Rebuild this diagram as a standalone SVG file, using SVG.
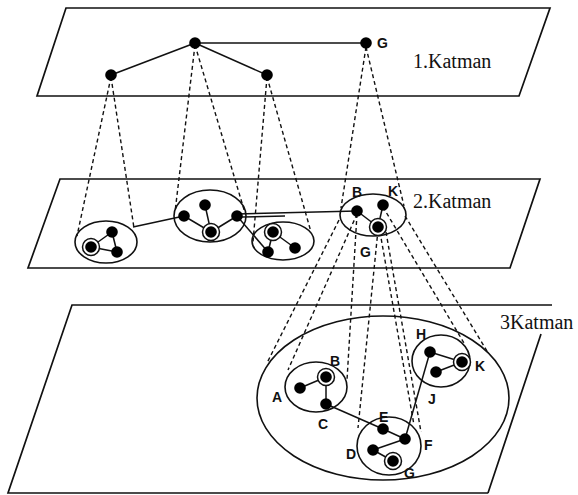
<svg xmlns="http://www.w3.org/2000/svg" width="578" height="495" viewBox="0 0 578 495">
  <style>
    .plane { fill: none; stroke: #111; stroke-width: 1.7; }
    .ring { fill: none; stroke: #111; stroke-width: 1.6; }
    .edge { stroke: #111; stroke-width: 1.5; fill: none; }
    .proj { stroke: #111; stroke-width: 1.4; stroke-dasharray: 4 3; fill: none; }
    .node { fill: #000; }
    .halo { fill: #fff; stroke: #111; stroke-width: 1.5; }
    .lbl { font-family: "Liberation Sans", Arial, sans-serif; font-weight: bold; font-size: 14px; fill: #111; }
    .title { font-family: "Liberation Serif", "Times New Roman", serif; font-size: 20px; fill: #111; }
  </style>
  <defs>
    <g id="dn">
      <circle r="8.5" class="halo"/>
      <circle r="5.8" class="node"/>
    </g>
  </defs>
  <rect width="578" height="495" fill="#fff"/>

  <!-- layer planes -->
  <g id="plane1">
    <polygon class="plane" points="66,8 550,8 519,96 37,96"/>
    <text class="title" x="413" y="68">1.Katman</text>
  </g>
  <g id="plane2">
    <polygon class="plane" points="60,179 540,179 510,268 28,268"/>
    <text class="title" x="413" y="208">2.Katman</text>
  </g>
  <g id="plane3">
    <path class="plane" d="M488,493 L8,493 L72,305 L552,305 M541,334 L488,493"/>
    <text class="title" x="500" y="329">3Katman</text>
  </g>

  <!-- connectors -->
  <g id="connectors">
    <!-- layer 1 edges -->
    <line class="edge" x1="195" y1="43" x2="111" y2="75"/>
    <line class="edge" x1="195" y1="43" x2="267" y2="75"/>
    <line class="edge" x1="195" y1="43" x2="366" y2="43"/>

    <!-- layer 1 to layer 2 projections -->
    <line class="proj" x1="111" y1="77" x2="77" y2="236"/>
    <line class="proj" x1="111" y1="77" x2="134" y2="228"/>
    <line class="proj" x1="195" y1="45" x2="175" y2="212"/>
    <line class="proj" x1="195" y1="45" x2="245" y2="213"/>
    <line class="proj" x1="267" y1="77" x2="253" y2="242"/>
    <line class="proj" x1="267" y1="77" x2="311" y2="232"/>
    <line class="proj" x1="366" y1="47" x2="341" y2="208"/>
    <line class="proj" x1="366" y1="47" x2="404" y2="206"/>

    <!-- layer 2 edges -->
    <line class="edge" x1="91" y1="247" x2="112" y2="232"/>
    <line class="edge" x1="91" y1="247" x2="117" y2="252"/>
    <line class="edge" x1="112" y1="232" x2="117" y2="252"/>
    <line class="edge" x1="133" y1="227" x2="184" y2="216"/>
    <line class="edge" x1="184" y1="216" x2="211" y2="232"/>
    <line class="edge" x1="205" y1="205" x2="211" y2="232"/>
    <line class="edge" x1="237" y1="216" x2="211" y2="232"/>
    <line class="edge" x1="237" y1="214" x2="357" y2="211"/>
    <line class="edge" x1="242" y1="217" x2="285" y2="216"/>
    <line class="edge" x1="237" y1="216" x2="268" y2="252"/>
    <line class="edge" x1="273" y1="232" x2="295" y2="248"/>
    <line class="edge" x1="273" y1="232" x2="268" y2="252"/>
    <line class="edge" x1="357" y1="211" x2="378" y2="227"/>
    <line class="edge" x1="383" y1="205" x2="378" y2="227"/>

    <!-- layer 2 to layer 3 projections -->
    <line class="proj" x1="339" y1="220" x2="267" y2="363"/>
    <line class="proj" x1="357" y1="214" x2="288" y2="370"/>
    <line class="proj" x1="357" y1="214" x2="347" y2="380"/>
    <line class="proj" x1="378" y1="230" x2="358" y2="428"/>
    <line class="proj" x1="380" y1="232" x2="414" y2="425"/>
    <line class="proj" x1="386" y1="232" x2="421" y2="432"/>
    <line class="proj" x1="383" y1="207" x2="464" y2="343"/>
    <line class="proj" x1="405" y1="216" x2="487" y2="351"/>

    <!-- layer 3 edges -->
    <line class="edge" x1="300" y1="388" x2="326" y2="377"/>
    <line class="edge" x1="326" y1="377" x2="326" y2="404"/>
    <line class="edge" x1="326" y1="404" x2="383" y2="429"/>
    <line class="edge" x1="383" y1="429" x2="405" y2="439"/>
    <line class="edge" x1="373" y1="450" x2="405" y2="439"/>
    <line class="edge" x1="373" y1="450" x2="393" y2="461"/>
    <line class="edge" x1="405" y1="439" x2="430" y2="352"/>
    <line class="edge" x1="430" y1="352" x2="462" y2="362"/>
    <line class="edge" x1="436" y1="372" x2="462" y2="362"/>
  </g>

  <!-- layer 1 nodes -->
  <g id="l1-top"><circle class="node" cx="195" cy="43" r="5.8"/></g>
  <g id="l1-left"><circle class="node" cx="111" cy="75" r="5.8"/></g>
  <g id="l1-right"><circle class="node" cx="267" cy="75" r="5.8"/></g>
  <g id="l1-G">
    <circle class="node" cx="366" cy="43" r="5.8"/>
    <text class="lbl" x="377" y="48">G</text>
  </g>

  <!-- layer 2 clusters -->
  <g id="l2-cluster1">
    <ellipse class="ring" cx="106" cy="242" rx="31" ry="21"/>
    <use href="#dn" x="91" y="247"/>
    <circle class="node" cx="112" cy="232" r="5.8"/>
    <circle class="node" cx="117" cy="252" r="5.8"/>
  </g>
  <g id="l2-cluster2">
    <ellipse class="ring" cx="210" cy="216" rx="36" ry="26"/>
    <circle class="node" cx="184" cy="216" r="5.8"/>
    <circle class="node" cx="205" cy="205" r="5.8"/>
    <circle class="node" cx="237" cy="216" r="5.8"/>
    <use href="#dn" x="211" y="232"/>
  </g>
  <g id="l2-cluster3">
    <ellipse class="ring" cx="283" cy="241" rx="31" ry="19"/>
    <use href="#dn" x="273" y="232"/>
    <circle class="node" cx="295" cy="248" r="5.8"/>
    <circle class="node" cx="268" cy="252" r="5.8"/>
  </g>
  <g id="l2-cluster4">
    <ellipse class="ring" cx="373" cy="215" rx="33" ry="21"/>
    <circle class="node" cx="357" cy="211" r="5.8"/>
    <circle class="node" cx="383" cy="205" r="5.8"/>
    <use href="#dn" x="378" y="227"/>
    <text class="lbl" x="352" y="197">B</text>
    <text class="lbl" x="388" y="196">K</text>
    <text class="lbl" x="360" y="257">G</text>
  </g>

  <!-- layer 3 clusters -->
  <g id="l3-group">
    <ellipse class="ring" cx="383" cy="398" rx="126" ry="82"/>
  </g>
  <g id="l3-ABC">
    <ellipse class="ring" cx="316" cy="387" rx="31" ry="25"/>
    <circle class="node" cx="300" cy="388" r="5.8"/>
    <use href="#dn" x="326" y="377"/>
    <circle class="node" cx="326" cy="404" r="5.8"/>
    <text class="lbl" x="272" y="402">A</text>
    <text class="lbl" x="330" y="366">B</text>
    <text class="lbl" x="318" y="429">C</text>
  </g>
  <g id="l3-DEFG">
    <ellipse class="ring" cx="389" cy="446" rx="32" ry="29"/>
    <circle class="node" cx="383" cy="429" r="5.8"/>
    <circle class="node" cx="405" cy="439" r="5.8"/>
    <circle class="node" cx="373" cy="450" r="5.8"/>
    <use href="#dn" x="393" y="461"/>
    <text class="lbl" x="379" y="422">E</text>
    <text class="lbl" x="424" y="450">F</text>
    <text class="lbl" x="346" y="459">D</text>
    <text class="lbl" x="404" y="478">G</text>
  </g>
  <g id="l3-HJK">
    <ellipse class="ring" cx="441" cy="361" rx="29" ry="26"/>
    <circle class="node" cx="430" cy="352" r="5.8"/>
    <circle class="node" cx="436" cy="372" r="5.8"/>
    <use href="#dn" x="462" y="362"/>
    <text class="lbl" x="416" y="339">H</text>
    <text class="lbl" x="475" y="371">K</text>
    <text class="lbl" x="428" y="404">J</text>
  </g>
</svg>
